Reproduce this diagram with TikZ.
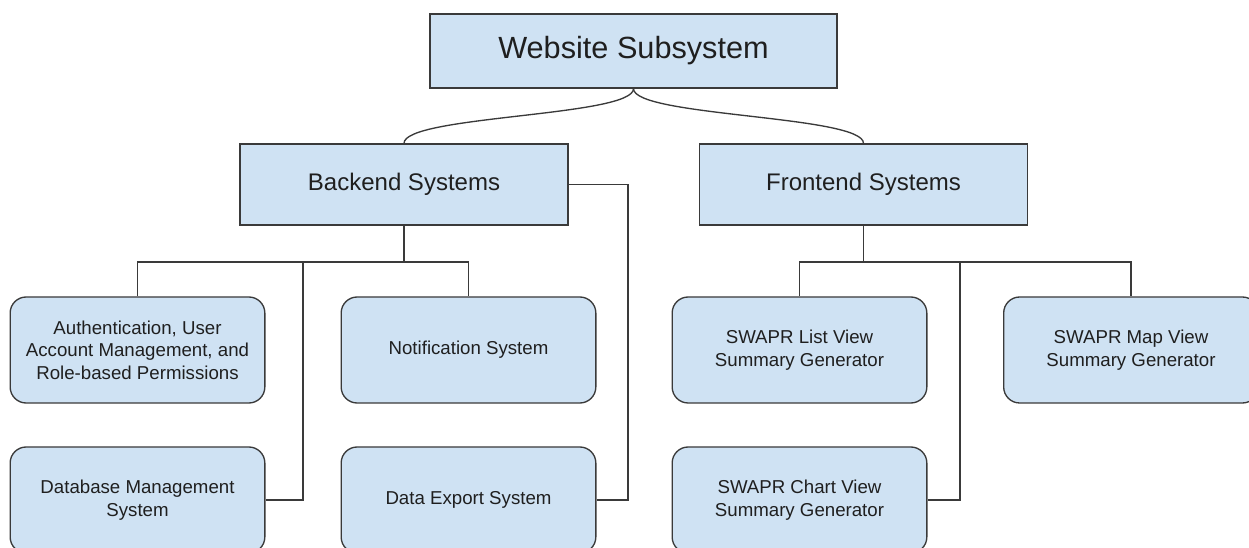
\documentclass[tikz,border=0pt]{standalone}
\usepackage{fontspec}
\setmainfont{Liberation Sans}
\definecolor{boxfill}{HTML}{CFE2F3}
\definecolor{edge}{HTML}{3A3A3A}
\definecolor{ink}{HTML}{1F1F1F}
\tikzset{
  base/.style={draw=edge, fill=boxfill, line width=1pt, text=ink, align=center, inner sep=0pt},
  topbox/.style={base, minimum width=305.25pt, minimum height=55.5pt, font=\fontsize{23}{27}\selectfont},
  midbox/.style={base, minimum width=246pt, minimum height=60.75pt, font=\fontsize{18}{21}\selectfont},
  leafbox/.style={base, rounded corners=12pt, minimum width=191pt, minimum height=79.5pt, font=\fontsize{14}{17}\selectfont},
  link/.style={draw=edge, line width=1pt}
}
\begin{document}
\begin{tikzpicture}[x=0.75pt, y=-0.75pt]
  \useasboundingbox (0,0) rectangle (1249,548);
  \clip (0,0) rectangle (1249,548);
  \fill[white] (0,0) rectangle (1249,548);

  % root and the two subsystem groups
  \node[topbox] (root) at (633.5,51) {Website Subsystem};
  \node[midbox] (backend) at (404,184.5) {Backend Systems};
  \node[midbox] (frontend) at (863.5,184.5) {Frontend Systems};

  % backend components
  \node[leafbox] (auth) at (137.5,350) {Authentication, User\\Account Management, and\\Role-based Permissions};
  \node[leafbox] (notif) at (468.5,350) {Notification System};
  \node[leafbox] (db) at (137.5,500) {Database Management\\System};
  \node[leafbox] (export) at (468.5,500) {Data Export System};

  % frontend components
  \node[leafbox] (list) at (799.5,350) {SWAPR List View\\Summary Generator};
  \node[leafbox] (map) at (1131,350) {SWAPR Map View\\Summary Generator};
  \node[leafbox] (chart) at (799.5,500) {SWAPR Chart View\\Summary Generator};

  % curved links from the root
  \draw[link] (root.south) .. controls +(0,28) and +(0,-28) .. (backend.north);
  \draw[link] (root.south) .. controls +(0,28) and +(0,-28) .. (frontend.north);

  % backend tree
  \coordinate (bbus) at (404,262);
  \coordinate (bjoin) at (303,262);
  \coordinate (bside) at (628,0);
  \draw[link] (backend.south) -- (bbus);
  \draw[link] (auth.north) -- (auth.north |- bbus) -- (notif.north |- bbus) -- (notif.north);
  \draw[link] (db.east) -| (bjoin);
  \draw[link] (backend.east) -| (bside |- export.east) -- (export.east);

  % frontend tree
  \coordinate (fbus) at (863.5,262);
  \coordinate (fjoin) at (960,262);
  \draw[link] (frontend.south) -- (fbus);
  \draw[link] (list.north) -- (list.north |- fbus) -- (map.north |- fbus) -- (map.north);
  \draw[link] (chart.east) -| (fjoin);
\end{tikzpicture}
\end{document}
